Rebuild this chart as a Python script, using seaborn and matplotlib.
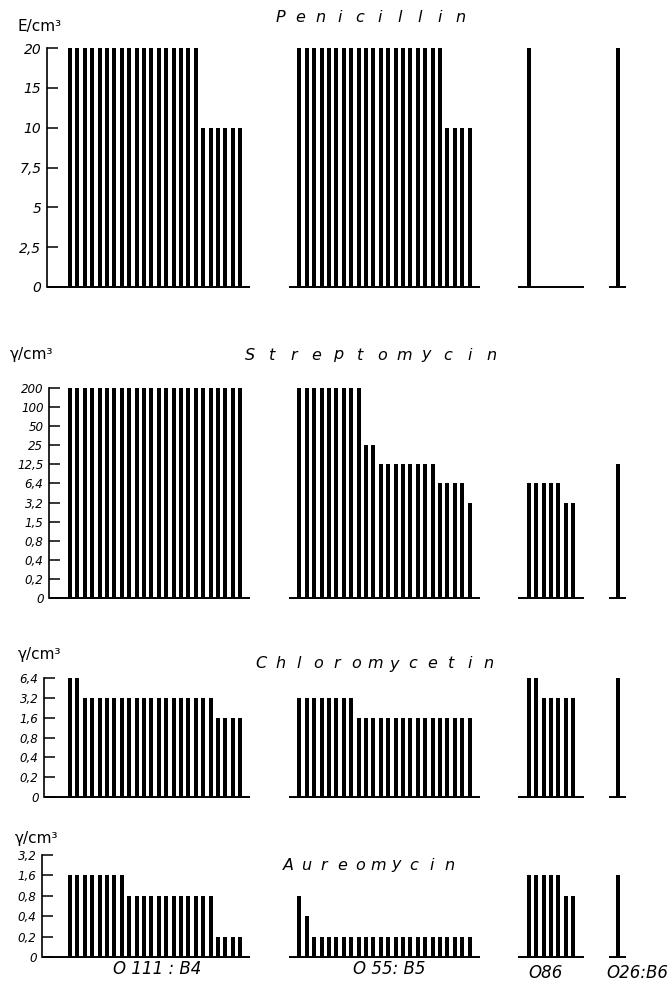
import numpy as np
import pandas as pd
import matplotlib
matplotlib.use("Agg")
import matplotlib.pyplot as plt
import seaborn as sns

# ---------------- data ----------------
group_names = ["O 111 : B4", "O 55: B5", "O86", "O26:B6"]
antibiotics = ["Penicillin", "Streptomycin", "Chloromycetin", "Aureomycin"]
units = ["E/cm³", "γ/cm³", "γ/cm³", "γ/cm³"]

pen_levels = [0, 2.5, 5, 7.5, 10, 15, 20]
pen_ticklabels = ["0", "2,5", "5", "7,5", "10", "15", "20"]
str_levels = [0, 0.2, 0.4, 0.8, 1.5, 3.2, 6.4, 12.5, 25, 50, 100, 200]
str_ticklabels = ["0", "0,2", "0,4", "0,8", "1,5", "3,2", "6,4", "12,5", "25", "50", "100", "200"]
chl_levels = [0, 0.2, 0.4, 0.8, 1.6, 3.2, 6.4]
chl_ticklabels = ["0", "0,2", "0,4", "0,8", "1,6", "3,2", "6,4"]
aur_levels = [0, 0.2, 0.4, 0.8, 1.6, 3.2]
aur_ticklabels = ["0", "0,2", "0,4", "0,8", "1,6", "3,2"]

pen_o111 = [20, 20, 20, 20, 20, 20, 20, 20, 20, 20, 20, 20, 20, 20, 20, 20, 20, 20,
            10, 10, 10, 10, 10, 10]
pen_o55 = [20, 20, 20, 20, 20, 20, 20, 20, 20, 20, 20, 20, 20, 20, 20, 20, 20, 20, 20, 20,
           10, 10, 10, 10]
pen_o86 = [20, 0, 0, 0, 0, 0, 0]
pen_o26 = [20]

str_o111 = [200, 200, 200, 200, 200, 200, 200, 200, 200, 200, 200, 200,
            200, 200, 200, 200, 200, 200, 200, 200, 200, 200, 200, 200]
str_o55 = [200, 200, 200, 200, 200, 200, 200, 200, 200, 25, 25,
           12.5, 12.5, 12.5, 12.5, 12.5, 12.5, 12.5, 12.5, 6.4, 6.4, 6.4, 6.4, 3.2]
str_o86 = [6.4, 6.4, 6.4, 6.4, 6.4, 3.2, 3.2]
str_o26 = [12.5]

chl_o111 = [6.4, 6.4, 3.2, 3.2, 3.2, 3.2, 3.2, 3.2, 3.2, 3.2, 3.2, 3.2, 3.2, 3.2, 3.2, 3.2,
            3.2, 3.2, 3.2, 3.2, 1.6, 1.6, 1.6, 1.6]
chl_o55 = [3.2, 3.2, 3.2, 3.2, 3.2, 3.2, 3.2, 3.2, 1.6, 1.6, 1.6, 1.6, 1.6, 1.6, 1.6, 1.6,
           1.6, 1.6, 1.6, 1.6, 1.6, 1.6, 1.6, 1.6]
chl_o86 = [6.4, 6.4, 3.2, 3.2, 3.2, 3.2, 3.2]
chl_o26 = [6.4]

aur_o111 = [1.6, 1.6, 1.6, 1.6, 1.6, 1.6, 1.6, 1.6, 0.8, 0.8, 0.8, 0.8, 0.8, 0.8, 0.8, 0.8,
            0.8, 0.8, 0.8, 0.8, 0.2, 0.2, 0.2, 0.2]
aur_o55 = [0.8, 0.4, 0.2, 0.2, 0.2, 0.2, 0.2, 0.2, 0.2, 0.2, 0.2, 0.2, 0.2, 0.2, 0.2, 0.2,
           0.2, 0.2, 0.2, 0.2, 0.2, 0.2, 0.2, 0.2]
aur_o86 = [1.6, 1.6, 1.6, 1.6, 1.6, 0.8, 0.8]
aur_o26 = [1.6]

panels_data = [
    (pen_levels, pen_ticklabels, [pen_o111, pen_o55, pen_o86, pen_o26]),
    (str_levels, str_ticklabels, [str_o111, str_o55, str_o86, str_o26]),
    (chl_levels, chl_ticklabels, [chl_o111, chl_o55, chl_o86, chl_o26]),
    (aur_levels, aur_ticklabels, [aur_o111, aur_o55, aur_o86, aur_o26]),
]

# ---------------- layout (pixels) ----------------
W, H = 672, 986
group_starts = [0, 31, 62, 74]
px_per_unit = 7.4
first_bar_px = 70
right_px = 655
# per panel: axis x, baseline y, top tick y, tick label size
panel_layout = [
    dict(axis_x=47, y0=287, ytop=48, tsize=10.0, unit_xy=(40, 26), title_xy=(370, 18), pitch=20.0),
    dict(axis_x=49, y0=598, ytop=388, tsize=8.6, unit_xy=(32, 355), title_xy=(371, 355), pitch=22.0),
    dict(axis_x=44, y0=797, ytop=678, tsize=8.6, unit_xy=(40, 655), title_xy=(375, 664), pitch=19.0),
    dict(axis_x=42, y0=957, ytop=855, tsize=8.6, unit_xy=(37, 838), title_xy=(369, 865), pitch=18.0),
]
bottom_label_xy = [(157, 969), (389, 969), (546, 973), (637, 973)]

sns.set_theme(style="white")
plt.rcParams["font.family"] = ["DejaVu Sans"]

fig = plt.figure(figsize=(W / 100, H / 100), dpi=100)


def spaced_title(text, cx, cy, pitch, size):
    n = len(text)
    for i, ch in enumerate(text):
        x = cx + (i - (n - 1) / 2) * pitch
        fig.text(x / W, 1 - cy / H, ch, ha="center", va="center", fontsize=size,
                 fontstyle="italic", color="black")


for p, ((levels, ticklabels, groups), lay) in enumerate(zip(panels_data, panel_layout)):
    nlev = len(levels) - 1
    step = (lay["y0"] - lay["ytop"]) / nlev
    top_pad = 0.6
    ax_h = step * (nlev + top_pad)
    ax_left = lay["axis_x"]
    ax_w = right_px - ax_left
    ax = fig.add_axes([ax_left / W, 1 - lay["y0"] / H, ax_w / W, ax_h / H])

    rows = []
    for g, (start, vals) in enumerate(zip(group_starts, groups)):
        for i, v in enumerate(vals):
            rows.append(dict(pos=float(start + i), level=levels.index(v), group=group_names[g]))
    df = pd.DataFrame(rows)

    sns.barplot(data=df, x="pos", y="level", native_scale=True, orient="x",
                width=0.52, color="black", saturation=1, linewidth=0,
                errorbar=None, ax=ax)

    xl = (ax_left - first_bar_px) / px_per_unit
    xr = (right_px - first_bar_px) / px_per_unit
    ax.set_xlim(xl, xr)
    ax.set_ylim(0, nlev + top_pad)

    # baselines per group
    for g, (start, vals) in enumerate(zip(group_starts, groups)):
        end = start + len(vals) - 1
        if g == 0:
            a, b = xl, end + 1.3
        elif len(vals) == 1:
            a, b = start - 1.1, end + 1.1
        else:
            a, b = start - 1.4, end + 1.4
        ax.hlines(0, a, b, color="black", lw=1.4, clip_on=False)

    for s in ["top", "right", "bottom"]:
        ax.spines[s].set_visible(False)
    ax.spines["left"].set_bounds(0, nlev)
    ax.spines["left"].set_linewidth(1.2)
    ax.spines["left"].set_color("black")
    ax.set_xticks([])
    ax.set_yticks(range(nlev + 1))
    ax.set_yticklabels(ticklabels, fontstyle="italic", fontsize=lay["tsize"])
    ax.tick_params(axis="y", direction="in", length=8, width=1.1, pad=4, colors="black", left=True)
    ax.set_xlabel("")
    ax.set_ylabel("")
    ax.set_facecolor("none")
    ax.grid(False)

    ux, uy = lay["unit_xy"]
    fig.text(ux / W, 1 - uy / H, units[p], ha="center", va="center", fontsize=11, color="black")
    tx, ty = lay["title_xy"]
    spaced_title(antibiotics[p], tx, ty, lay["pitch"], 11.5)

for name, (x, y) in zip(group_names, bottom_label_xy):
    fig.text(x / W, 1 - y / H, name, ha="center", va="center", fontsize=12,
             fontstyle="italic", color="black")

fig.savefig("out.png", dpi=100, facecolor="white")
